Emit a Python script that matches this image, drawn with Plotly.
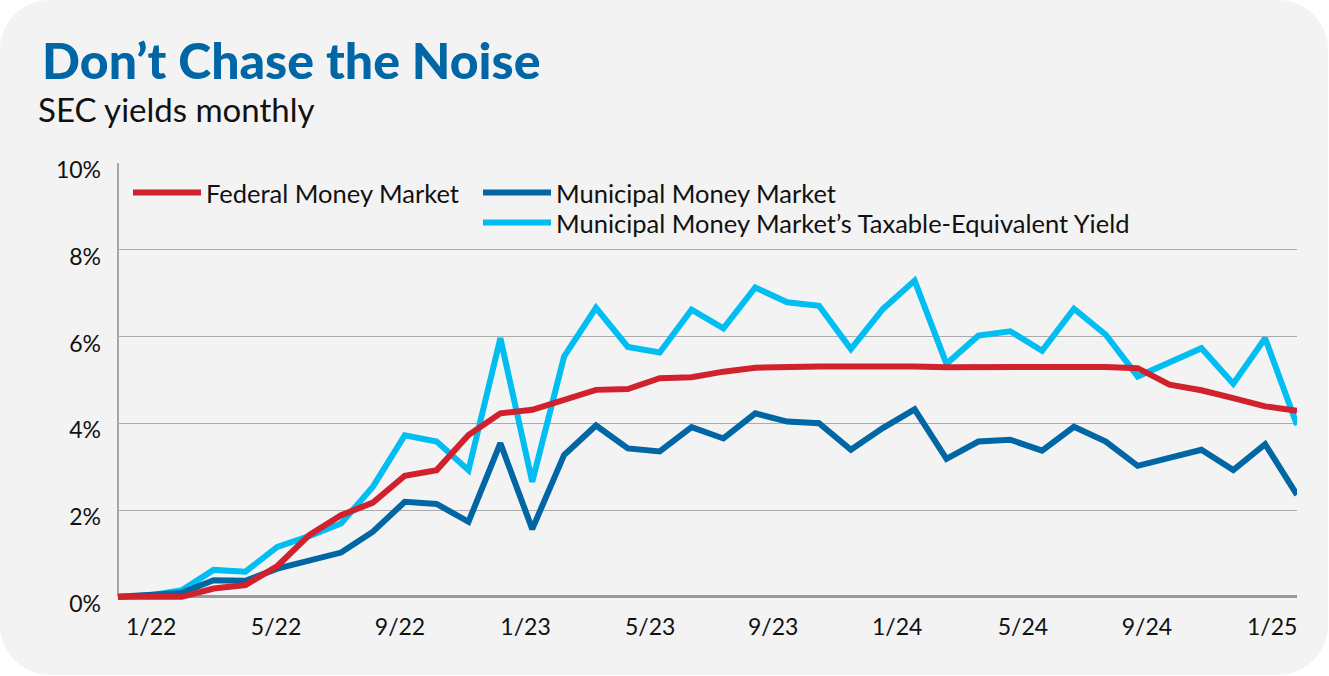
import plotly.graph_objects as go

# ---------------- data ----------------
months = ["12/21", "1/22", "2/22", "3/22", "4/22", "5/22", "6/22", "7/22", "8/22", "9/22",
          "10/22", "11/22", "12/22", "1/23", "2/23", "3/23", "4/23", "5/23", "6/23", "7/23",
          "8/23", "9/23", "10/23", "11/23", "12/23", "1/24", "2/24", "3/24", "4/24", "5/24",
          "6/24", "7/24", "8/24", "9/24", "10/24", "11/24", "12/24", "1/25"]

federal = [0.00, 0.00, 0.00, 0.19, 0.27, 0.71, 1.42, 1.88, 2.17, 2.79,
           2.92, 3.73, 4.23, 4.31, 4.54, 4.77, 4.79, 5.04, 5.06, 5.19,
           5.28, 5.31, 5.31, 5.31, 5.32, 5.31, 5.29, 5.30, 5.30, 5.30,
           5.30, 5.30, 5.27, 4.89, 4.76, 4.58, 4.39, 4.29]

municipal = [0.00, 0.03, 0.09, 0.38, 0.37, 0.65, 0.85, 1.02, 1.50, 2.19,
             2.14, 1.73, 3.54, 1.56, 3.27, 3.95, 3.42, 3.35, 3.91, 3.65,
             4.23, 4.04, 4.00, 3.39, 3.89, 4.32, 3.18, 3.58, 3.62, 3.37,
             3.92, 3.58, 3.02, 3.22, 3.39, 2.92, 3.52, 2.35]

tey = [0.00, 0.03, 0.15, 0.62, 0.58, 1.15, 1.40, 1.69, 2.54, 3.72,
       3.58, 2.92, 5.96, 2.65, 5.54, 6.66, 5.76, 5.63, 6.62, 6.19,
       7.13, 6.79, 6.71, 5.71, 6.63, 7.29, 5.37, 6.02, 6.12, 5.67,
       6.64, 6.04, 5.08, 5.42, 5.73, 4.91, 5.96, 3.96]

tick_labels = ["1/22", "5/22", "9/22", "1/23", "5/23", "9/23", "1/24", "5/24", "9/24", "1/25"]
tick_pos = [1.04, 4.96, 8.85, 12.79, 16.70, 20.56, 24.45, 28.40, 32.29, 36.22]

y_ticks = [0, 2, 4, 6, 8, 10]
y_tick_text = [f"{v}%" for v in y_ticks]

# ---------------- styling ----------------
W, H = 1329, 676
ML, MR, MT, MB = 118, 32, 163, 74
PW, PH = W - ML - MR, H - MT - MB
Y_RANGE = [-0.12, 10]

RED = "#D0212D"
DARK = "#0066A4"
LIGHT = "#00BDF2"
TITLE = "#0066A6"
BG = "#F3F3F3"
FONT = "Lato"
TXT = "#111111"

x = list(range(len(months)))


def ypix_to_paper(py):
    return (H - MB - py) / PH


def xpix_to_paper(px):
    return (px - ML) / PW


fig = go.Figure()
series = [
    ("Municipal Money Market\u2019s Taxable-Equivalent Yield", tey, LIGHT, "legend3"),
    ("Municipal Money Market", municipal, DARK, "legend2"),
    ("Federal Money Market", federal, RED, "legend"),
]
for name, vals, col, leg in series:
    fig.add_trace(go.Scatter(
        x=x, y=vals, name=name, mode="lines", customdata=months,
        line=dict(color=col, width=6),
        legend=leg, cliponaxis=False,
        hovertemplate="%{customdata}: %{y:.2f}%<extra>" + name + "</extra>",
    ))


def P(px, py):
    return f"{xpix_to_paper(px):.5f},{ypix_to_paper(py):.5f}"


# rounded background card
x0, y0, x1, y1, r = 0, 0, 1328, 675, 50
k = 0.5523 * r
card = (
    f"M{P(x0 + r, y0)} L{P(x1 - r, y0)} "
    f"C{P(x1 - r + k, y0)} {P(x1, y0 + r - k)} {P(x1, y0 + r)} "
    f"L{P(x1, y1 - r)} "
    f"C{P(x1, y1 - r + k)} {P(x1 - r + k, y1)} {P(x1 - r, y1)} "
    f"L{P(x0 + r, y1)} "
    f"C{P(x0 + r - k, y1)} {P(x0, y1 - r + k)} {P(x0, y1 - r)} "
    f"L{P(x0, y0 + r)} "
    f"C{P(x0, y0 + r - k)} {P(x0 + r - k, y0)} {P(x0 + r, y0)} Z"
)
fig.add_shape(type="path", path=card, xref="paper", yref="paper",
              fillcolor=BG, line=dict(width=0), layer="below")
# left axis line, from 0% to 10%
fig.add_shape(type="line", xref="paper", yref="y", x0=0, x1=0,
              y0=y_ticks[0], y1=y_ticks[-1],
              line=dict(color="#8C8C8C", width=1.5), layer="below")

legend_font = dict(family=FONT, size=25.5, color=TXT)


def legend_box(px, py):
    return dict(x=xpix_to_paper(px), xanchor="left",
                y=ypix_to_paper(py), yanchor="middle",
                bgcolor="rgba(0,0,0,0)", borderwidth=0,
                font=legend_font, itemwidth=68, orientation="v")


fig.update_layout(
    width=W, height=H,
    margin=dict(l=ML, r=MR, t=MT, b=MB),
    paper_bgcolor="white",
    plot_bgcolor="rgba(0,0,0,0)",
    font=dict(family=FONT, color=TXT),
    title=dict(
        text="Don\u2019t Chase the Noise",
        font=dict(family=FONT, size=50, weight=900, color=TITLE),
        xref="container", yref="container",
        x=42 / W, xanchor="left",
        y=1 - 61 / H, yanchor="middle",
    ),
    annotations=[dict(
        text="SEC yields monthly", showarrow=False,
        xref="paper", yref="paper",
        x=xpix_to_paper(36), xanchor="left",
        y=ypix_to_paper(109), yanchor="middle",
        font=dict(family=FONT, size=33, color=TXT),
    )],
    showlegend=True,
    legend=legend_box(128, 193),
    legend2=legend_box(478, 193),
    legend3=legend_box(478, 223),
    xaxis=dict(
        range=[0, len(months) - 1],
        showgrid=False, zeroline=False, showline=False,
        tickmode="array", tickvals=tick_pos, ticktext=tick_labels,
        ticks="", ticklabelstandoff=9,
        tickfont=dict(family=FONT, size=23, color=TXT),
        fixedrange=True,
    ),
    yaxis=dict(
        range=Y_RANGE,
        tickmode="array", tickvals=y_ticks, ticktext=y_tick_text,
        showgrid=True, gridcolor="#ABABAB", gridwidth=1.3,
        zeroline=True, zerolinecolor="#9A9A9A", zerolinewidth=3,
        showline=False,
        ticks="", ticklabelstandoff=16, ticklabelshift=7,
        tickfont=dict(family=FONT, size=23, color=TXT),
        fixedrange=True,
    ),
)

fig.write_html("out.html", config={"displayModeBar": False},
               post_script="document.body.style.margin='0px';")
